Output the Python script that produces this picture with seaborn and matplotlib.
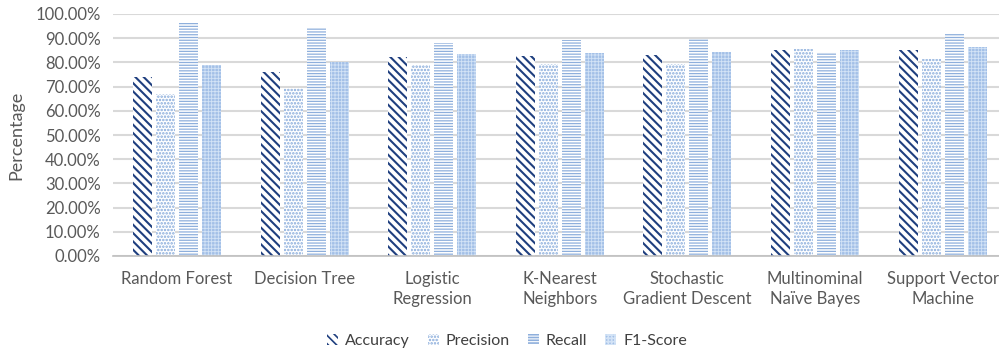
import matplotlib
matplotlib.use("Agg")
import matplotlib.pyplot as plt
from matplotlib.patches import Patch
from matplotlib.ticker import FuncFormatter
import pandas as pd
import seaborn as sns

# Classifier names (wrapped as shown on the x axis)
models = [
    "Random Forest",
    "Decision Tree",
    "Logistic\nRegression",
    "K-Nearest\nNeighbors",
    "Stochastic\nGradient Descent",
    "Multinominal\nNaïve Bayes",
    "Support Vector\nMachine",
]
metrics = ["Accuracy", "Precision", "Recall", "F1-Score"]

# Scores per metric, as fractions
accuracy = [0.738, 0.762, 0.821, 0.825, 0.831, 0.850, 0.853]
precision = [0.668, 0.693, 0.788, 0.792, 0.793, 0.855, 0.814]
recall = [0.962, 0.941, 0.881, 0.893, 0.898, 0.843, 0.917]
f1_score = [0.789, 0.800, 0.835, 0.839, 0.843, 0.850, 0.864]

y_ticks = [i / 10 for i in range(11)]

df = pd.DataFrame({
    "model": models * 4,
    "metric": sum([[m] * len(models) for m in metrics], []),
    "value": accuracy + precision + recall + f1_score,
})

sns.set_theme(style="white")
plt.rcParams["font.family"] = ["Lato", "DejaVu Sans"]
plt.rcParams["hatch.linewidth"] = 1.2

text_color = "#595959"
navy = "#1f3f7f"

# face colour, hatch colour, hatch pattern, hatch line width
styles = {
    "Accuracy": ("white", navy, "\\" * 4, 1.5),
    "Precision": ("white", "#85a9da", "." * 5, 1.2),
    "Recall": ("white", "#8eafdc", "-" * 6, 0.9),
    "F1-Score": ("#a3c0e7", "#d3e3f6", "+" * 5, 0.6),
}

fig = plt.figure(figsize=(9.99, 3.53), dpi=100)
ax = fig.add_axes([113.2 / 999, 97 / 353, (999 - 113.2) / 999, 242 / 353])

sns.barplot(
    data=df, x="model", y="value", hue="metric", hue_order=metrics,
    order=models, palette=["white"] * 4, width=0.72, gap=0.17,
    ax=ax, legend=False, errorbar=None,
)


def style_patch(patch, metric):
    face, hcol, hatch, hlw = styles[metric]
    patch.set_facecolor(face)
    patch.set_edgecolor(hcol)
    patch.set_hatch(hatch)
    patch.set_linewidth(0)
    if hasattr(patch, "set_hatch_linewidth"):
        patch.set_hatch_linewidth(hlw)


for metric, container in zip(metrics, ax.containers):
    for bar in container:
        style_patch(bar, metric)

ax.set_ylim(0, 1.0)
ax.set_xlim(-0.5, -0.5 + (999 - 113.2) / 127.6)
ax.set_yticks(y_ticks)
ax.yaxis.set_major_formatter(FuncFormatter(lambda v, _: f"{v * 100:.2f}%"))
ax.grid(axis="y", color="#d9d9d9", linewidth=1.5)
ax.set_axisbelow(True)

for side in ["left", "right", "top"]:
    ax.spines[side].set_visible(False)
ax.spines["bottom"].set_color("#bfbfbf")
ax.spines["bottom"].set_linewidth(1.2)

ax.tick_params(axis="y", length=0, pad=9, labelsize=12, labelcolor=text_color)
ax.tick_params(axis="x", length=0, pad=11, labelsize=12, labelcolor=text_color)
for lab in ax.get_xticklabels():
    lab.set_linespacing(1.3)
    lab.set_verticalalignment("top")

ax.set_xlabel("")
ax.set_ylabel("Percentage", fontsize=13, color=text_color)
ax.yaxis.set_label_coords(-0.1, 0.5)

handles = []
for metric in metrics:
    h = Patch(label=metric)
    style_patch(h, metric)
    handles.append(h)
leg = fig.legend(
    handles=handles, loc="center", bbox_to_anchor=(507 / 999, 1 - 341 / 353),
    ncol=4, frameon=False, fontsize=11.5, handlelength=0.7, handleheight=0.7,
    handletextpad=0.45, columnspacing=1.1,
)
for t in leg.get_texts():
    t.set_color("#404040")

fig.savefig("out.png", dpi=100)
